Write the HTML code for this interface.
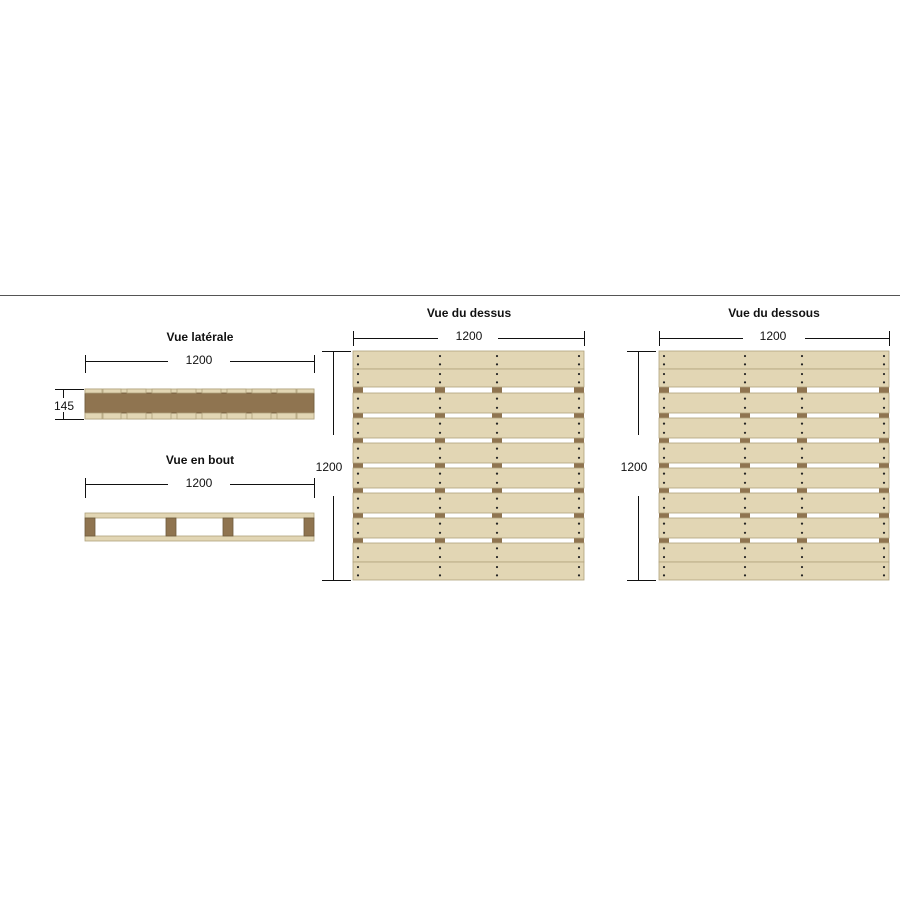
<!DOCTYPE html>
<html><head><meta charset="utf-8"><style>
html,body{margin:0;padding:0;background:#fff;}
svg{display:block;font-family:"Liberation Sans",Arial,sans-serif;}
</style></head><body>
<svg id="s" width="900" height="900" viewBox="0 0 900 900" xmlns="http://www.w3.org/2000/svg">
<line x1="0" y1="295.5" x2="900" y2="295.5" stroke="#555" stroke-width="1"/>
<g font-size="12" fill="#111">
<text x="200" y="341" text-anchor="middle" font-weight="bold">Vue latérale</text>
<text x="200" y="464" text-anchor="middle" font-weight="bold">Vue en bout</text>
<text x="469" y="317" text-anchor="middle" font-weight="bold">Vue du dessus</text>
<text x="774" y="317" text-anchor="middle" font-weight="bold">Vue du dessous</text>
<text x="199" y="364" text-anchor="middle">1200</text>
<text x="199" y="487" text-anchor="middle">1200</text>
<text x="469" y="340" text-anchor="middle">1200</text>
<text x="773" y="340" text-anchor="middle">1200</text>
<text x="64" y="410" text-anchor="middle">145</text>
<text x="329" y="471" text-anchor="middle">1200</text>
<text x="634" y="471" text-anchor="middle">1200</text>
</g>
<g stroke="#111" stroke-width="1" fill="none">
<path d="M85.5 355v18M314.5 355v18M85 361.5h83M230 361.5h84"/>
<path d="M85.5 478v20M314.5 478v20M85 484.5h83M230 484.5h84"/>
<path d="M353.5 331v15M584.5 331v15M353 338.5h85M498 338.5h86"/>
<path d="M659.5 331v15M889.5 331v15M659 338.5h84M805 338.5h84"/>
<path d="M55 389.5h29M55 419.5h29M63.5 389v9M63.5 412v7"/>
<path d="M322 351.5h29M322 580.5h29M333.5 351v84M333.5 496v84"/>
<path d="M627 351.5h29M627 580.5h29M638.5 351v84M638.5 496v84"/>
</g>
<g id="side"></g>
<g id="end"></g>
<g id="top"></g>
<g id="bot"></g>
</svg>
<script>
var NS="http://www.w3.org/2000/svg";
function r(g,x,y,w,h,f,st){var e=document.createElementNS(NS,"rect");e.setAttribute("x",x);e.setAttribute("y",y);e.setAttribute("width",w);e.setAttribute("height",h);e.setAttribute("fill",f);if(st){e.setAttribute("stroke",st);e.setAttribute("stroke-width","0.8");}document.getElementById(g).appendChild(e);}
function c(g,x,y){var e=document.createElementNS(NS,"circle");e.setAttribute("cx",x);e.setAttribute("cy",y);e.setAttribute("r","1.1");e.setAttribute("fill","#222");document.getElementById(g).appendChild(e);}
var L="#e2d6b4",D="#8f7450",S="#b0a27c";
r("side",85,389,229,30,L,S);
r("side",85,393,229,20,D,"#6e5a3c");
var segs=[[85,102],[103,121],[127,146],[152,171],[177,196],[202,221],[227,246],[252,271],[277,296],[297,314]];
segs.forEach(function(s){r("side",s[0],389,s[1]-s[0],4,L,S);r("side",s[0],413,s[1]-s[0],6,L,S);});
r("end",85,513,229,5,L,S);r("end",85,536,229,5,L,S);
[85,166,223,304].forEach(function(x){r("end",x,518,10,18,D,"#6e5a3c");});
function pal(g,x0,x1,blocks,nails){
 var w=x1-x0;
 r(g,x0,351,w,229,"#fff");
 var boards=[[351,369],[369,387],[393,413],[418,438],[443,463],[468,488],[493,513],[518,538],[543,562],[562,580]];
 for(var i=0;i<7;i++){var y=387+25*i;blocks.forEach(function(b){r(g,b,y,10,6,D);});}
 boards.forEach(function(b){r(g,x0,b[0],w,b[1]-b[0],L,S);
  var h=b[1]-b[0];[b[0]+h*0.28,b[0]+h*0.74].forEach(function(y){nails.forEach(function(n){c(g,n,y);});});});
}
pal("top",353,584,[353,435,492,574],[358,440,497,579]);
pal("bot",659,889,[659,740,797,879],[664,745,802,884]);
</script>
</body></html>
